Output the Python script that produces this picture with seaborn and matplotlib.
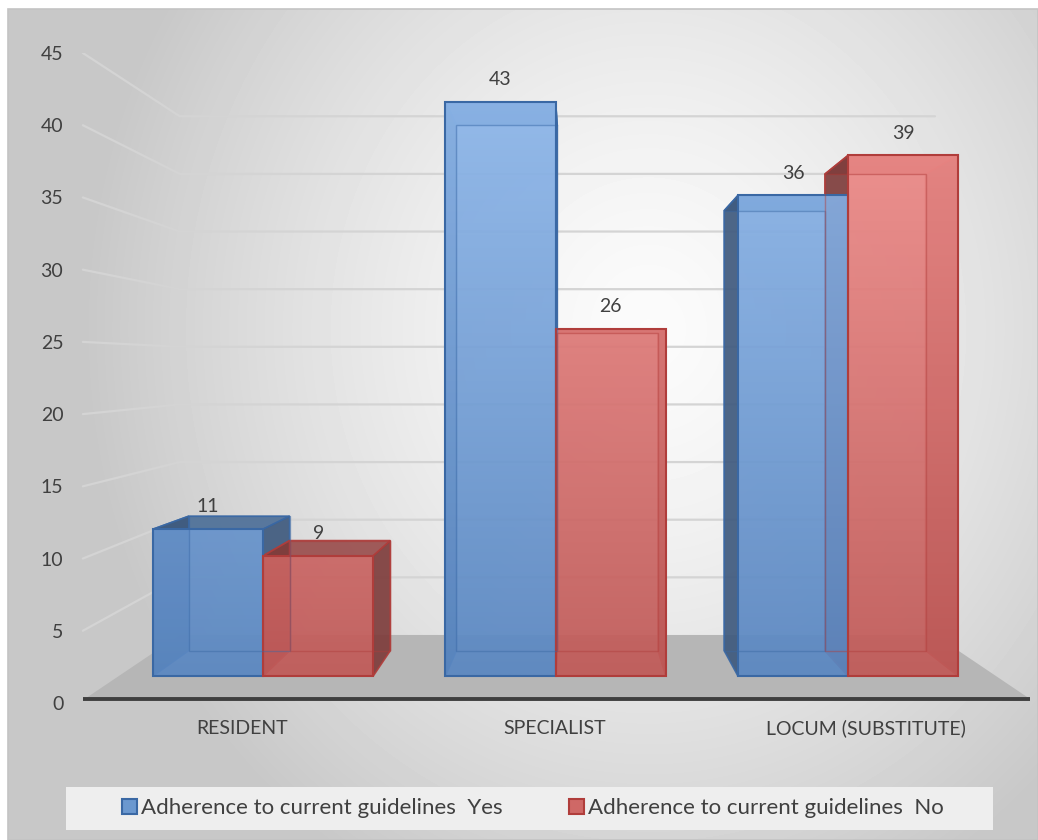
import numpy as np
import pandas as pd
import matplotlib
matplotlib.use("Agg")
import matplotlib.pyplot as plt
import seaborn as sns
from matplotlib.patches import Polygon, Rectangle, Patch
from matplotlib.transforms import blended_transform_factory
from matplotlib.colors import to_rgb

# ---------------- data ----------------
categories = ["RESIDENT", "SPECIALIST", "LOCUM (SUBSTITUTE)"]
series = ["Adherence to current guidelines  Yes", "Adherence to current guidelines  No"]
yes_values = [11, 43, 36]
no_values = [9, 26, 39]
y_ticks = [0, 5, 10, 15, 20, 25, 30, 35, 40, 45]

df = pd.DataFrame({
    "category": categories * 2,
    "series": [series[0]] * 3 + [series[1]] * 3,
    "value": yes_values + no_values,
})

# ---------------- style ----------------
W, H = 1038, 840
sns.set_theme(style="white")
plt.rcParams['font.family'] = ['Lato', 'DejaVu Sans']
TXT = "#404040"

blue_top, blue_bot = np.array(to_rgb("#8fb8eb")), np.array(to_rgb("#5a87c1"))
red_top, red_bot = np.array(to_rgb("#f2908e")), np.array(to_rgb("#c05a58"))
blue_edge, red_edge = "#3a68a4", "#b03d3b"
blue_side, red_side = "#3f5a7e", "#7e3d3c"
blue_topface, red_topface = "#4d6f98", "#9a4e4d"

fig = plt.figure(figsize=(W / 100, H / 100), dpi=100)

# ---------------- background gradient ----------------
bg = fig.add_axes([8 / W, 0, (W - 8) / W, (H - 9) / H], zorder=0)
yy, xx = np.mgrid[0:831, 0:1030]
r = np.hypot((xx - 640) / 560.0, (yy - 320) / 620.0)
t = np.clip(r, 0, 1)
val = 0.985 - 0.20 * t ** 1.4
bg.imshow(val, cmap="gray", vmin=0, vmax=1, aspect="auto", interpolation="bilinear")
bg.set_axis_off()
fig.add_artist(Rectangle((8 / W, 0), (W - 8) / W, (H - 9) / H, transform=fig.transFigure,
                         fill=False, edgecolor="#c4c4c4", lw=1.2, zorder=0.5))

# ---------------- plot rect ----------------
left_px, right_px, top_px, bot_px = 80, 1030, 53, 703
rect = [left_px / W, (H - bot_px) / H, (right_px - left_px) / W, (bot_px - top_px) / H]

# axis with value ticks, back wall gridlines and floor
ax2 = fig.add_axes(rect, zorder=1)
ax2.set_xlim(0, 1)
ax2.set_ylim(0, 45)
ax2.set_yticks(y_ticks)
ax2.set_xticks([])
ax2.patch.set_visible(False)
for s in ax2.spines.values():
    s.set_visible(False)
ax2.tick_params(axis="y", length=0, pad=12, labelsize=14, labelcolor=TXT)
bt = blended_transform_factory(ax2.transAxes, ax2.transData)
back_x0, back_x1 = 0.105, 0.90
for v in y_ticks[1:]:
    yb = 4.71 + 0.798 * v
    ax2.plot([0.003, back_x0, back_x1], [v, yb, yb], transform=bt, color="#d4d4d4",
             lw=1.6, zorder=1, solid_capstyle="round")
floor = Polygon([(0.005, 0.28), (1.0, 0.28), (back_x1, 4.71), (back_x0, 4.71)],
                closed=True, transform=bt, facecolor="#b6b6b6", edgecolor="none", zorder=0.8)
ax2.add_patch(floor)
ax2.plot([0.003, 1.0], [0.28, 0.28], transform=bt, color="#3f3f3f", lw=2.8, zorder=2,
         solid_capstyle="butt")

# bars axis
ax = fig.add_axes(rect, zorder=2)
ax.patch.set_visible(False)
sns.barplot(data=df, x="category", y="value", hue="series", order=categories,
            hue_order=series, palette=["#6b98cf", "#cf6866"], width=0.753, gap=0,
            edgecolor="none", linewidth=0, legend=False, ax=ax)
ax.set_xlim(-0.626, 2.622)
ax.set_ylim(-2.02, 46.67)
for s in ax.spines.values():
    s.set_visible(False)
ax.set_yticks([])
ax.set_xlabel("")
ax.set_ylabel("")

# pseudo 3-D boxes around each seaborn bar
fig.canvas.draw()
V = np.array([575.0, H - 376.0])
sc = 0.915
to_fig = fig.transFigure.inverted()
n = len(categories)

# category labels sit on the front edge of the floor (perspective-expanded)
centers_disp = ax.transData.transform([(i, 0) for i in range(n)])[:, 0]
label_disp = V[0] + (centers_disp - V[0]) * 1.067
label_pos = ax.transData.inverted().transform([(xd, 0) for xd in label_disp])[:, 0]
ax.set_xticks(label_pos, labels=categories)
ax.tick_params(axis="x", length=0, pad=12, labelsize=14, labelcolor=TXT)

for i, p in enumerate(ax.patches):
    is_blue = i < n
    x0, y0, w, h = p.get_x(), p.get_y(), p.get_width(), p.get_height()
    F = ax.transData.transform([(x0, y0), (x0 + w, y0), (x0 + w, y0 + h), (x0, y0 + h)])
    B = V + sc * (F - V)
    Ff, Bf = to_fig.transform(F), to_fig.transform(B)
    side = blue_side if is_blue else red_side
    topc = blue_topface if is_blue else red_topface
    edge = blue_edge if is_blue else red_edge
    faces = [([Ff[3], Ff[2], Bf[2], Bf[3]], topc),
             ([Ff[0], Ff[3], Bf[3], Bf[0]], side),
             ([Ff[1], Ff[2], Bf[2], Bf[1]], side)]
    for pts, col in faces:
        ax.add_patch(Polygon(pts, closed=True, transform=fig.transFigure, facecolor=col,
                             edgecolor=edge, lw=1.2, alpha=0.92, zorder=2, clip_on=False))
    top_c, bot_c = (blue_top, blue_bot) if is_blue else (red_top, red_bot)
    ys = np.linspace(y0 + h, y0, 100)
    tt = np.clip(ys / 45.0, 0, 1)[:, None]
    grad = (bot_c[None, :] * (1 - tt) + top_c[None, :] * tt)[:, None, :]
    im = ax.imshow(grad, extent=(x0, x0 + w, y0, y0 + h), aspect="auto", alpha=0.93,
                   zorder=3, interpolation="bilinear")
    im.set_clip_path(p)
    p.set_facecolor("none")
    p.set_edgecolor(edge)
    p.set_linewidth(1.5)
    p.set_zorder(4)
    ax.add_patch(Polygon(Bf, closed=True, transform=fig.transFigure, fill=False,
                         edgecolor=edge, lw=1.0, alpha=0.45, zorder=5, clip_on=False))
ax.set_xlim(-0.626, 2.622)
ax.set_ylim(-2.02, 46.67)

for c in ax.containers:
    ax.bar_label(c, fmt="%g", padding=10, fontsize=14, color=TXT)

# ---------------- legend ----------------
fig.add_artist(Rectangle((66 / W, 1 - 830 / H), (993 - 66) / W, 43 / H,
                         transform=fig.transFigure, facecolor="#eeeeee",
                         edgecolor="none", zorder=1))
handles = [Patch(facecolor="#6b98cf", edgecolor=blue_edge, lw=1.5),
           Patch(facecolor="#cf6866", edgecolor=red_edge, lw=1.5)]
fig.legend(handles, series, loc="center", bbox_to_anchor=(533 / W, 1 - 808 / H), ncol=2,
           frameon=False, fontsize=16, handlelength=0.65, handleheight=0.65,
           handletextpad=0.2, columnspacing=3.0, labelcolor=TXT)

fig.savefig("out.png", dpi=100)
